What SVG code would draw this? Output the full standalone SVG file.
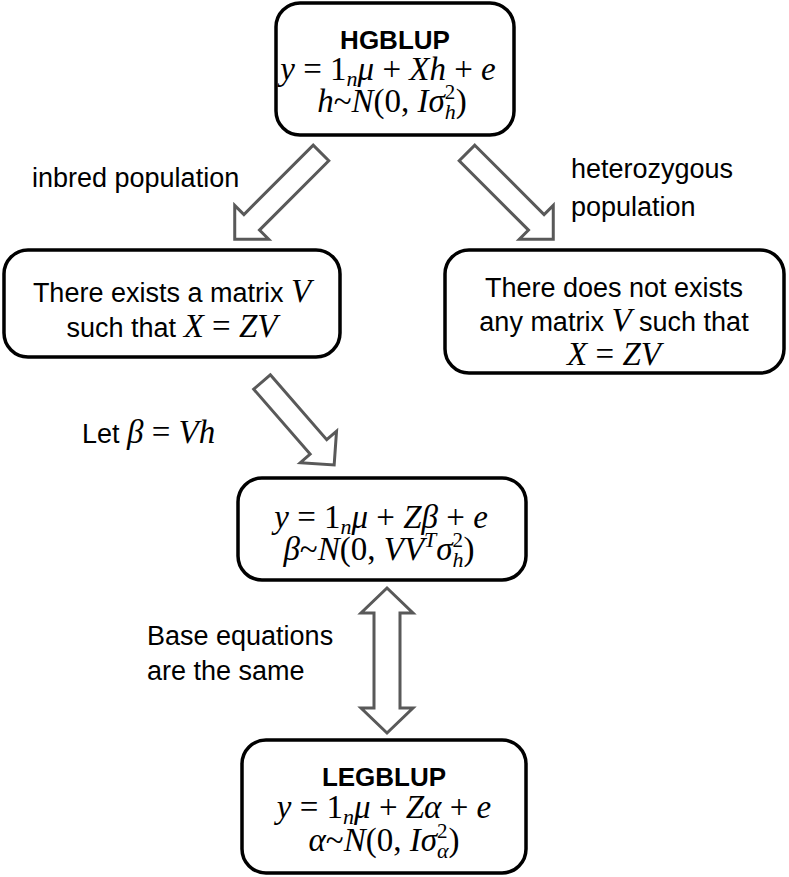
<svg xmlns="http://www.w3.org/2000/svg" width="789" height="877" viewBox="0 0 789 877">
<style>
.box{fill:#fff;stroke:#000;stroke-width:3.5}
.arr{fill:#fff;stroke:#595959;stroke-width:3;stroke-linejoin:miter}
.t{font-family:"Liberation Sans",Arial,sans-serif;font-size:27px;fill:#000}
.b{font-family:"Liberation Sans",Arial,sans-serif;font-size:26px;font-weight:bold;fill:#000}
.m{font-family:"Liberation Serif","Times New Roman",serif;font-size:33px;fill:#000}
.c{text-anchor:middle}
.i{font-style:italic}
.s{font-size:22px;font-style:italic}
.p{font-size:21px}
</style>
<defs>
<polygon id="da" points="0,-11 98,-11 98,-24 122,0 98,24 98,11 0,11"/>
</defs>
<g id="connectors">
<use href="#da" class="arr" transform="translate(321,153) rotate(135)"/>
<use href="#da" class="arr" transform="translate(467,153) rotate(45)"/>
<polygon class="arr" points="0,-11 86,-11 86,-24 110,0 86,24 86,11 0,11" transform="translate(262,382) rotate(49)"/>
<polygon class="arr" points="387,588 413,613 400,613 400,708 413,708 387,733 361,708 374,708 374,613 361,613"/>
<text class="t" x="32" y="187">inbred population</text>
<text class="t" x="571" y="178">heterozygous</text>
<text class="t" x="571" y="216">population</text>
<text class="t" x="82" y="443">Let <tspan class="m i">β</tspan><tspan class="m"> = </tspan><tspan class="m i">Vh</tspan></text>
<text class="t" x="147" y="645">Base equations</text>
<text class="t" x="147" y="680">are the same</text>
</g>
<g id="hgblup">
<rect class="box" x="276" y="3" width="238" height="132" rx="24"/>
<text class="b c" x="395" y="49">HGBLUP</text>
<text class="m c" x="388" y="80"><tspan class="i">y</tspan> = 1<tspan class="s" dy="6">n</tspan><tspan class="i" dy="-6">μ</tspan> + <tspan class="i">Xh</tspan> + <tspan class="i">e</tspan></text>
<text class="m c" x="392" y="112"><tspan class="i">h</tspan>~<tspan class="i">N</tspan>(0, <tspan class="i">Iσ</tspan><tspan class="p" dy="-13">2</tspan><tspan class="s" dx="-10.5" dy="20">h</tspan><tspan dy="-7">)</tspan></text>
</g>
<g id="exists">
<rect class="box" x="4" y="250" width="336" height="107" rx="24"/>
<text class="t c" x="172" y="302">There exists a matrix <tspan class="m i">V</tspan></text>
<text class="t c" x="172" y="337">such that <tspan class="m"><tspan class="i">X</tspan> = <tspan class="i">ZV</tspan></tspan></text>
</g>
<g id="notexists">
<rect class="box" x="445" y="250" width="339" height="123" rx="24"/>
<text class="t c" x="614" y="297">There does not exists</text>
<text class="t c" x="614" y="331">any matrix <tspan class="m i">V</tspan> such that</text>
<text class="m c" x="614" y="365"><tspan class="i">X</tspan> = <tspan class="i">ZV</tspan></text>
</g>
<g id="beta">
<rect class="box" x="238" y="478" width="288" height="102" rx="24"/>
<text class="m c" x="381" y="528"><tspan class="i">y</tspan> = 1<tspan class="s" dy="6">n</tspan><tspan class="i" dy="-6">μ</tspan> + <tspan class="i">Zβ</tspan> + <tspan class="i">e</tspan></text>
<text class="m c" x="379" y="560"><tspan class="i">β</tspan>~<tspan class="i">N</tspan>(0, <tspan class="i">VV</tspan><tspan class="s" dy="-13">T</tspan><tspan class="i" dy="13">σ</tspan><tspan class="p" dy="-13">2</tspan><tspan class="s" dx="-10.5" dy="20">h</tspan><tspan dy="-7">)</tspan></text>
</g>
<g id="legblup">
<rect class="box" x="242" y="740" width="284" height="133" rx="24"/>
<text class="b c" x="384" y="786">LEGBLUP</text>
<text class="m c" x="384" y="818"><tspan class="i">y</tspan> = 1<tspan class="s" dy="6">n</tspan><tspan class="i" dy="-6">μ</tspan> + <tspan class="i">Zα</tspan> + <tspan class="i">e</tspan></text>
<text class="m c" x="384" y="851"><tspan class="i">α</tspan>~<tspan class="i">N</tspan>(0, <tspan class="i">Iσ</tspan><tspan class="p" dy="-13">2</tspan><tspan class="s" dx="-10.5" dy="20">α</tspan><tspan dy="-7">)</tspan></text>
</g>
</svg>
